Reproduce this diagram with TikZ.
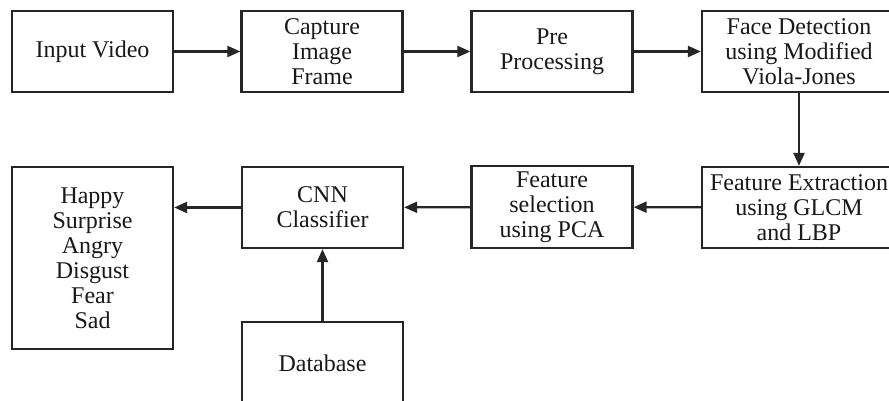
\documentclass[tikz,border=0pt]{standalone}
\usepackage{fontspec}
\setmainfont{Liberation Serif}
\usetikzlibrary{arrows.meta}
\begin{document}
\begin{tikzpicture}[x=1pt,y=-1pt,
  box/.style={draw=black!85, line width=2.3pt, align=center, inner sep=0pt,
    minimum width=161pt, minimum height=81pt,
    font=\fontsize{24}{25}\selectfont, text=black!90},
  flow/.style={draw=black!85, line width=2.3pt,
    -{Triangle[length=13pt,width=11pt]}}]
  \clip (0,0) rectangle (889,401);
  \fill[white] (0,0) rectangle (889,401);

  % top row
  \node[box] (in)   at (92.5,51.5)  {Input Video};
  \node[box] (cap)  at (322,51.5)   {Capture\\Image\\Frame};
  \node[box] (pre)  at (552,51.5)   {Pre\\Processing};
  \node[box, minimum width=194pt] (face) at (799,51.5)
    {Face Detection\\using Modified\\Viola-Jones};

  % second row
  \node[box, minimum width=194pt] (fe) at (799,207.5)
    {Feature Extraction\\using GLCM\\and LBP};
  \node[box, minimum height=82pt] (fs) at (552,207) {Feature\\selection\\using PCA};
  \node[box] (cnn)  at (322.5,207.5) {CNN\\Classifier};
  \node[box, minimum height=182pt] (emo) at (92.5,258)
    {Happy\\Surprise\\Angry\\Disgust\\Fear\\Sad};
  \node[box, minimum height=82pt] (db) at (322.5,363) {Database};

  % connectors
  \draw[flow] (in) -- (cap);
  \draw[flow] (cap) -- (pre);
  \draw[flow] (pre) -- (face);
  \draw[flow] (face) -- (fe);
  \draw[flow] (fe) -- (fs);
  \draw[flow] (fs) -- (cnn);
  \draw[flow] (cnn.west) -- (cnn.west -| emo.east);
  \draw[flow] (db) -- (cnn);
\end{tikzpicture}
\end{document}
